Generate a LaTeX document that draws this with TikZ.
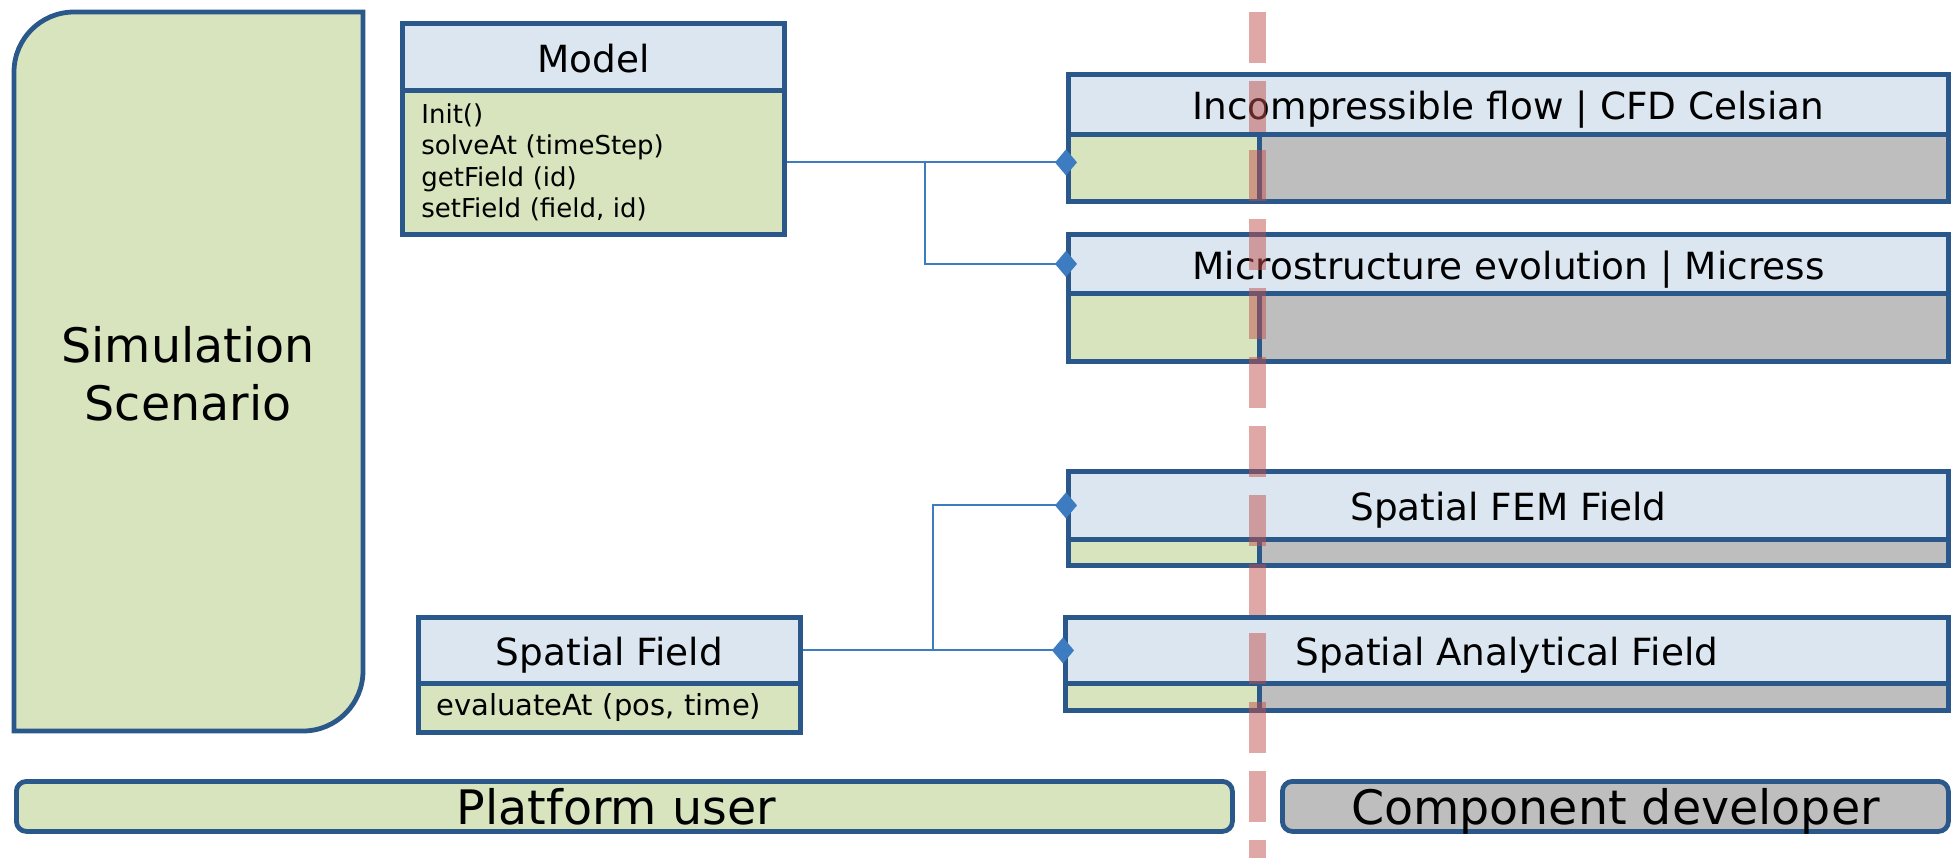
\documentclass[tikz,border=0pt]{standalone}
\usepackage{fontspec}
\setmainfont{DejaVu Sans}
\usetikzlibrary{arrows.meta}
\definecolor{edgeblue}{RGB}{42,88,138}
\definecolor{headblue}{RGB}{220,230,241}
\definecolor{usergreen}{RGB}{215,228,189}
\definecolor{devgray}{RGB}{190,190,190}
\definecolor{linkblue}{RGB}{61,124,192}
\definecolor{splitred}{RGB}{192,80,77}

\begin{document}
\begin{tikzpicture}[x=0.5pt,y=-0.5pt,
  box/.style={draw=edgeblue,line width=2.4pt,inner sep=0pt,anchor=north west},
  head/.style={box,fill=headblue,font=\fontsize{18.7pt}{22pt}\selectfont,text height=18pt,text depth=2.5pt},
  ops/.style={box,fill=usergreen,align=left,inner xsep=9.5pt},
  dev/.style={box,fill=devgray},
  role/.style={box,rounded corners=5pt,minimum height=25pt,font=\fontsize{23.75pt}{28pt}\selectfont,text height=20pt,text depth=2pt},
  link/.style={draw=linkblue,line width=1pt},
  owns/.style={link,-{Diamond[length=11pt,width=13pt]},shorten >=-5.5pt},
  split/.style={draw=splitred,opacity=0.5,line width=8.5pt,dash pattern=on 25.5pt off 9pt}]
\useasboundingbox (0,0) rectangle (1952,858);

\draw[draw=edgeblue,line width=2.4pt,fill=usergreen] (14,731) -- (14,72) arc(180:270:60) -- (363,12) -- (363,671) arc(0:90:60) -- cycle;
\node[font=\fontsize{23.75pt}{29pt}\selectfont,align=center] (scenario) at (188,374) {Simulation\\Scenario};

\node[head,minimum width=191pt,minimum height=33.5pt] (model) at (400,21) {Model};
\node[ops,text width=172pt,minimum height=72pt,font=\fontsize{13pt}{15.6pt}\selectfont] (modelops) at (400,88)
  {Init()\\solveAt (timeStep)\\getField (id)\\setField (field, id)};

\node[head,minimum width=191pt,minimum height=33pt] (field) at (416,615) {Spatial Field};
\node[ops,text width=173pt,inner xsep=9pt,minimum height=24.5pt,font=\fontsize{14.5pt}{17pt}\selectfont] (fieldops) at (416,681)
  {evaluateAt (pos, time)};

\foreach \id/\x/\ytop/\ymid/\ybot/\txt in {flow/1066/72/132/199/Incompressible flow | CFD Celsian,
    micro/1066/232/291/359/Microstructure evolution | Micress,
    fem/1066/469/537/563/Spatial FEM Field,
    analytic/1063/615/681/708/Spatial Analytical Field} {
  \node[head,minimum width={(1946-\x)*0.5pt},minimum height={(\ymid-\ytop)*0.5pt}] (\id) at (\x,\ytop) {\txt};
  \node[box,fill=usergreen,minimum width={(1257-\x)*0.5pt},minimum height={(\ybot-\ymid)*0.5pt}] (\id-user) at (\x,\ymid) {};
  \node[dev,minimum width=344.5pt,minimum height={(\ybot-\ymid)*0.5pt}] (\id-dev) at (1257,\ymid) {};
}

\node[role,fill=usergreen,minimum width=608pt] (user) at (14,779) {\kern-8pt Platform user};
\node[role,fill=devgray,minimum width=333pt] (developer) at (1280,779) {Component developer};

\draw[link] (modelops.east) -- ++(138,0) coordinate (topfork);
\draw[owns] (topfork) -- (topfork -| flow-user.west);
\draw[owns] (topfork) |- (micro.west);
\draw[link] (field.east) -- ++(130,0) coordinate (lowfork);
\draw[owns] (lowfork) |- (fem.west);
\draw[owns] (lowfork) -- (lowfork -| analytic.west);

\draw[split] (1257,12) -- (1257,858);
\end{tikzpicture}
\end{document}
